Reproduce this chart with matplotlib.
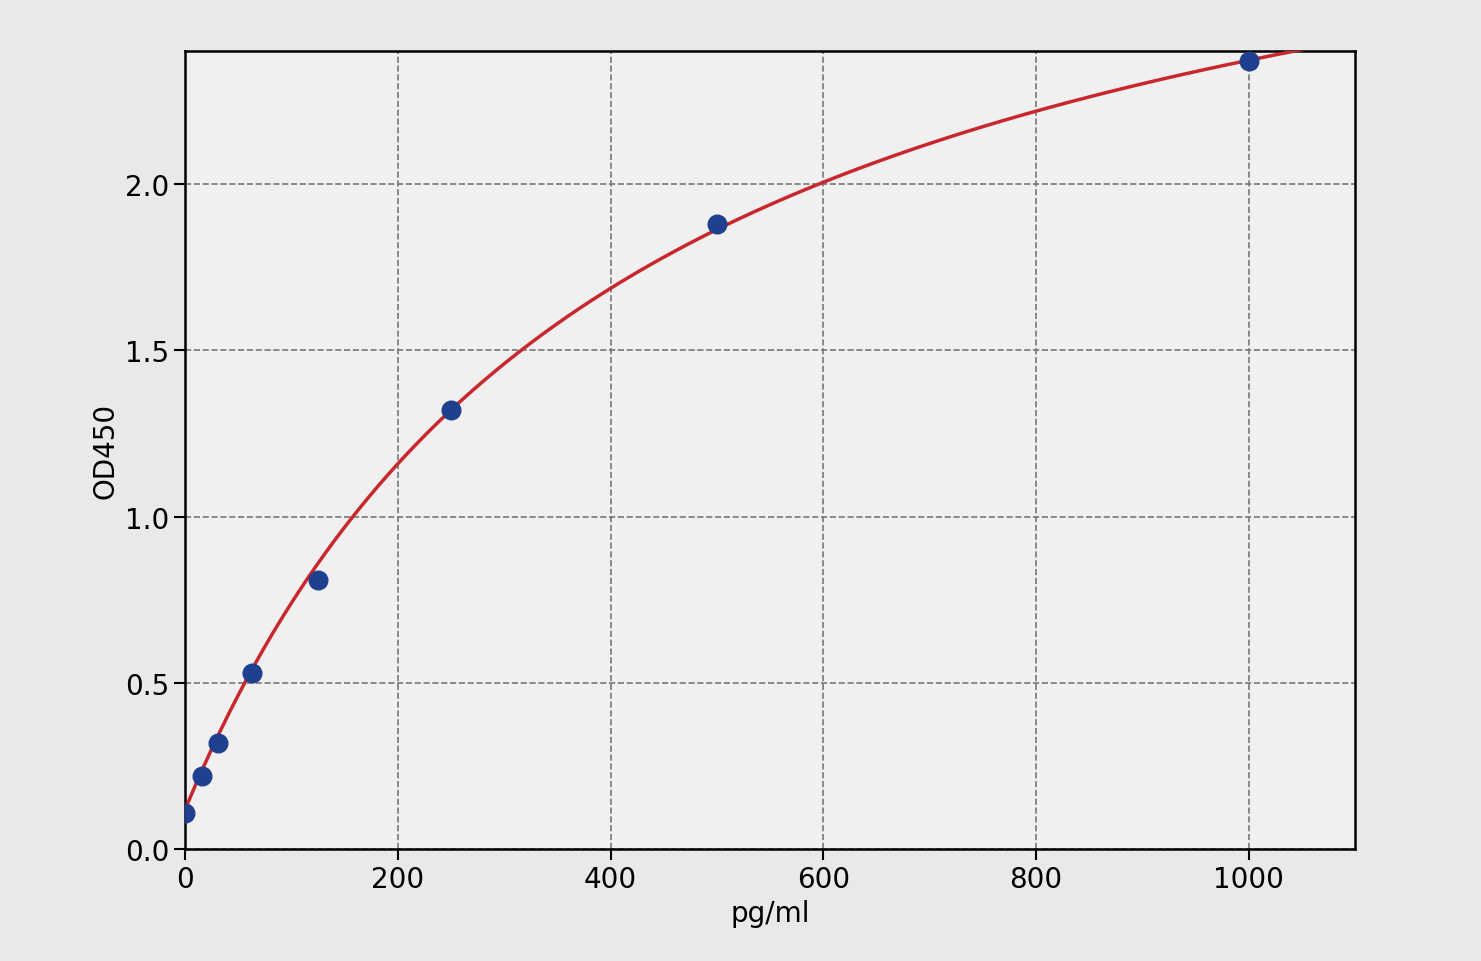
import numpy as np
import matplotlib
matplotlib.use("Agg")
import matplotlib.pyplot as plt

conc = [0, 15.63, 31.25, 62.5, 125, 250, 500, 1000]
od = [0.11, 0.22, 0.32, 0.53, 0.81, 1.32, 1.88, 2.37]

# hyperbolic (4PL, B=1) fit curve parameters
A, span, C = 0.12, 3.18, 412.0

fig = plt.figure(figsize=(14.81, 9.62), dpi=100, facecolor="#e9e9e9")
ax = fig.add_axes([0.125, 0.116, 0.79, 0.83])
ax.set_facecolor("#f0f0f0")
xs = np.linspace(0, 1100, 400)
ax.plot(xs, A + span * xs / (C + xs), color="#c8282d", lw=2.5, zorder=3)
ax.scatter(conc, od, s=180, color="#1f3f8f", zorder=4)
ax.set_xlim(0, 1100)
ax.set_ylim(0, 2.4)
ax.set_xticks([0, 200, 400, 600, 800, 1000])
ax.set_yticks([0.0, 0.5, 1.0, 1.5, 2.0])
ax.tick_params(labelsize=20, length=8, width=1.5)
ax.grid(True, ls="--", color="#777777", lw=1.2)
for s in ax.spines.values():
    s.set_linewidth(1.8)
ax.set_xlabel("pg/ml", fontsize=20)
ax.set_ylabel("OD450", fontsize=20)
fig.savefig("out.png", dpi=100, facecolor=fig.get_facecolor())
